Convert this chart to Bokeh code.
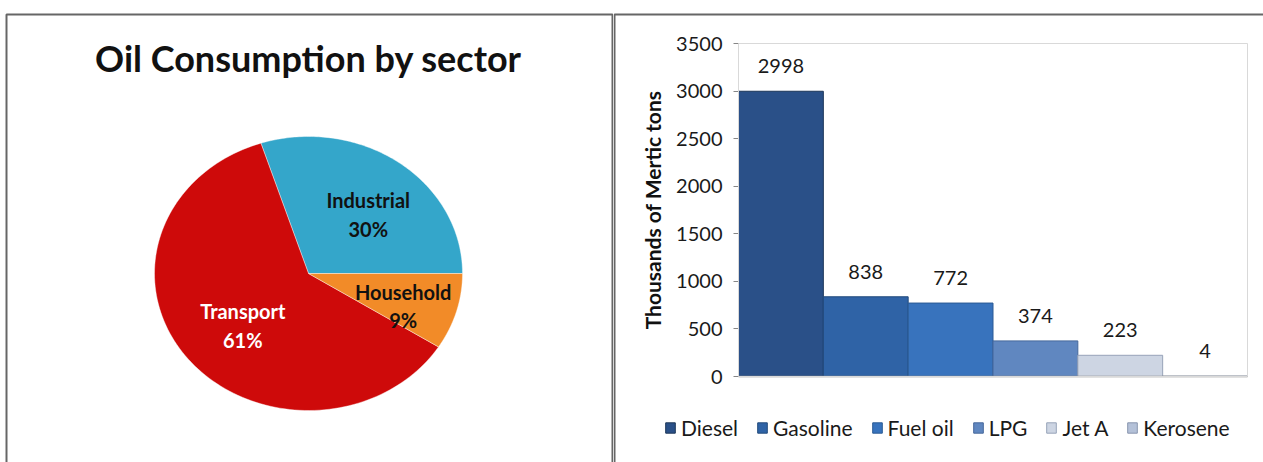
import numpy as np
from bokeh.plotting import figure
from bokeh.models import Range1d, ColumnDataSource, BoxAnnotation, FixedTicker, LinearAxis
from bokeh.layouts import row
from bokeh.embed import file_html
from bokeh.resources import INLINE
from bokeh.core.properties import value

# ---------------- data ----------------
title_text = "Oil Consumption by sector"
sectors = ["Industrial", "Transport", "Household"]
shares = [30, 61, 9]

fuels = ["Diesel", "Gasoline", "Fuel oil", "LPG", "Jet A", "Kerosene"]
amounts = [2998, 838, 772, 374, 223, 4]
y_ticks = [0, 500, 1000, 1500, 2000, 2500, 3000, 3500]
y_label = "Thousands of Mertic tons"

# ---------------- styles ----------------
sector_colors = ["#34A6CA", "#CE0A0A", "#F28B28"]
sector_text_colors = ["#111111", "#FFFFFF", "#111111"]
label_fx = [0.66, 0.54, 0.64]
label_fy = [0.53, 0.62, 0.85]
fuel_colors = ["#2A5088", "#2F63A6", "#3873BD", "#6087C0", "#CDD5E3", "#B4C1D8"]
fuel_lines = ["#1C3658", "#224A7C", "#2A5A94", "#45679A", "#97A3B8", "#8895AE"]
FONT = "Lato"
BORDER = "#666666"

H = 462
W1 = 613
W2 = 650

# ---------------- left panel: pie ----------------
left = figure(width=W1, height=H, output_backend="svg", toolbar_location=None,
              x_range=Range1d(0, W1), y_range=Range1d(0, H),
              x_axis_type=None, y_axis_type=None, min_border=0)
left.outline_line_color = None
left.xgrid.visible = False
left.ygrid.visible = False
left.background_fill_color = "white"
left.border_fill_color = "white"

cx, cy, rx, ry = 308, 189, 154, 137
frac = np.cumsum([0] + shares) / sum(shares)
angles = frac * 2 * np.pi
xs, ys, lx, ly = [], [], [], []
for i in range(len(shares)):
    a = np.linspace(angles[i], angles[i + 1], 120)
    xs.append(np.concatenate([[cx], cx + rx * np.cos(a)]).tolist())
    ys.append(np.concatenate([[cy], cy + ry * np.sin(a)]).tolist())
    mid = (angles[i] + angles[i + 1]) / 2
    lx.append(cx + rx * label_fx[i] * np.cos(mid))
    ly.append(cy + ry * label_fy[i] * np.sin(mid))

left.patches(xs=xs, ys=ys, fill_color=sector_colors, line_color="#FFFFFF",
             line_alpha=0.5, line_width=0.8)
left.text(x=lx, y=ly, text=[f"{s}\n{v}%" for s, v in zip(sectors, shares)],
          text_color=sector_text_colors, text_font=value(FONT), text_font_style="bold",
          text_font_size="20px", text_align="center", text_baseline="middle",
          text_line_height=1.2)
left.text(x=[308], y=[H - 57], text=[title_text], text_font=value(FONT),
          text_font_style="bold", text_font_size="36px", text_color="#111111",
          text_align="center", text_baseline="middle")
left.add_layout(BoxAnnotation(left=6, right=612, top=14, bottom=H + 20,
                              left_units="canvas", right_units="canvas",
                              top_units="canvas", bottom_units="canvas",
                              fill_alpha=0, line_color=BORDER, line_alpha=1,
                              line_width=2))

# ---------------- right panel: bars ----------------
idx = list(range(len(fuels)))
src = ColumnDataSource(dict(x=idx, fuel=fuels, amount=amounts, color=fuel_colors,
                            line=fuel_lines, label=[str(a) for a in amounts]))

# plot-area placement inside the panel (pixels)
pa_left, pa_right, pa_top, pa_bottom = 125, 634, 43, 376
ppx = (pa_right - pa_left) / len(fuels)
ppy = (pa_bottom - pa_top) / y_ticks[-1]
x0 = -0.5 - pa_left / ppx
x1 = len(fuels) - 0.5 + (W2 - pa_right) / ppx
y0 = -(H - pa_bottom) / ppy
y1 = y_ticks[-1] + pa_top / ppy

right = figure(width=W2, height=H, output_backend="svg", toolbar_location=None,
               x_range=Range1d(x0, x1), y_range=Range1d(y0, y1),
               x_axis_type=None, y_axis_type=None, min_border=0)
right.outline_line_color = None
right.xgrid.visible = False
right.ygrid.visible = False
right.background_fill_color = "white"
right.border_fill_color = "white"

right.add_layout(BoxAnnotation(left=-0.5, right=len(fuels) - 0.5, bottom=0,
                               top=y_ticks[-1], fill_alpha=0,
                               line_color="#D9D9D9", line_alpha=1, line_width=1))

right.vbar(x="x", top="amount", width=1.0, source=src, fill_color="color",
           line_color="line", line_width=1, legend_field="fuel")
right.text(x="x", y="amount", text="label", source=src, y_offset=-25,
           text_font=value(FONT), text_font_size="20px", text_color="#1A1A1A",
           text_align="center", text_baseline="middle")

yax = LinearAxis(fixed_location=-0.5, bounds=(y_ticks[0], y_ticks[-1]))
yax.ticker = FixedTicker(ticks=y_ticks)
yax.minor_tick_line_color = None
yax.major_tick_in = 0
yax.major_tick_out = 5
yax.axis_line_color = "#868686"
yax.major_tick_line_color = "#868686"
yax.major_label_text_font = FONT
yax.major_label_text_font_size = "20px"
yax.major_label_text_color = "#1A1A1A"
yax.major_label_standoff = 11
yax.axis_label = y_label
yax.axis_label_text_font = FONT
yax.axis_label_text_font_style = "bold"
yax.axis_label_text_font_size = "21px"
yax.axis_label_text_color = "#111111"
yax.axis_label_standoff = 8
right.add_layout(yax, "left")

xax = LinearAxis(fixed_location=0, bounds=(-0.5, len(fuels) - 0.5))
xax.axis_line_color = "#868686"
xax.axis_line_width = 1.5
xax.major_tick_line_color = None
xax.minor_tick_line_color = None
xax.major_label_text_font_size = "0px"
xax.major_label_text_color = None
right.add_layout(xax, "below")

lg = right.legend[0]
lg.orientation = "horizontal"
lg.location = (51, 22)
lg.background_fill_alpha = 0
lg.border_line_color = None
lg.label_text_font = FONT
lg.label_text_font_size = "21px"
lg.label_text_color = "#1A1A1A"
lg.glyph_width = 12
lg.glyph_height = 13
lg.label_standoff = 5
lg.spacing = 18
lg.padding = 0
lg.margin = 0

right.add_layout(BoxAnnotation(left=1, right=W2 + 20, top=14, bottom=H + 20,
                               left_units="canvas", right_units="canvas",
                               top_units="canvas", bottom_units="canvas",
                               fill_alpha=0, line_color=BORDER, line_alpha=1,
                               line_width=2))

layout = row(left, right)
open("out.html", "w").write(file_html(layout, INLINE))
